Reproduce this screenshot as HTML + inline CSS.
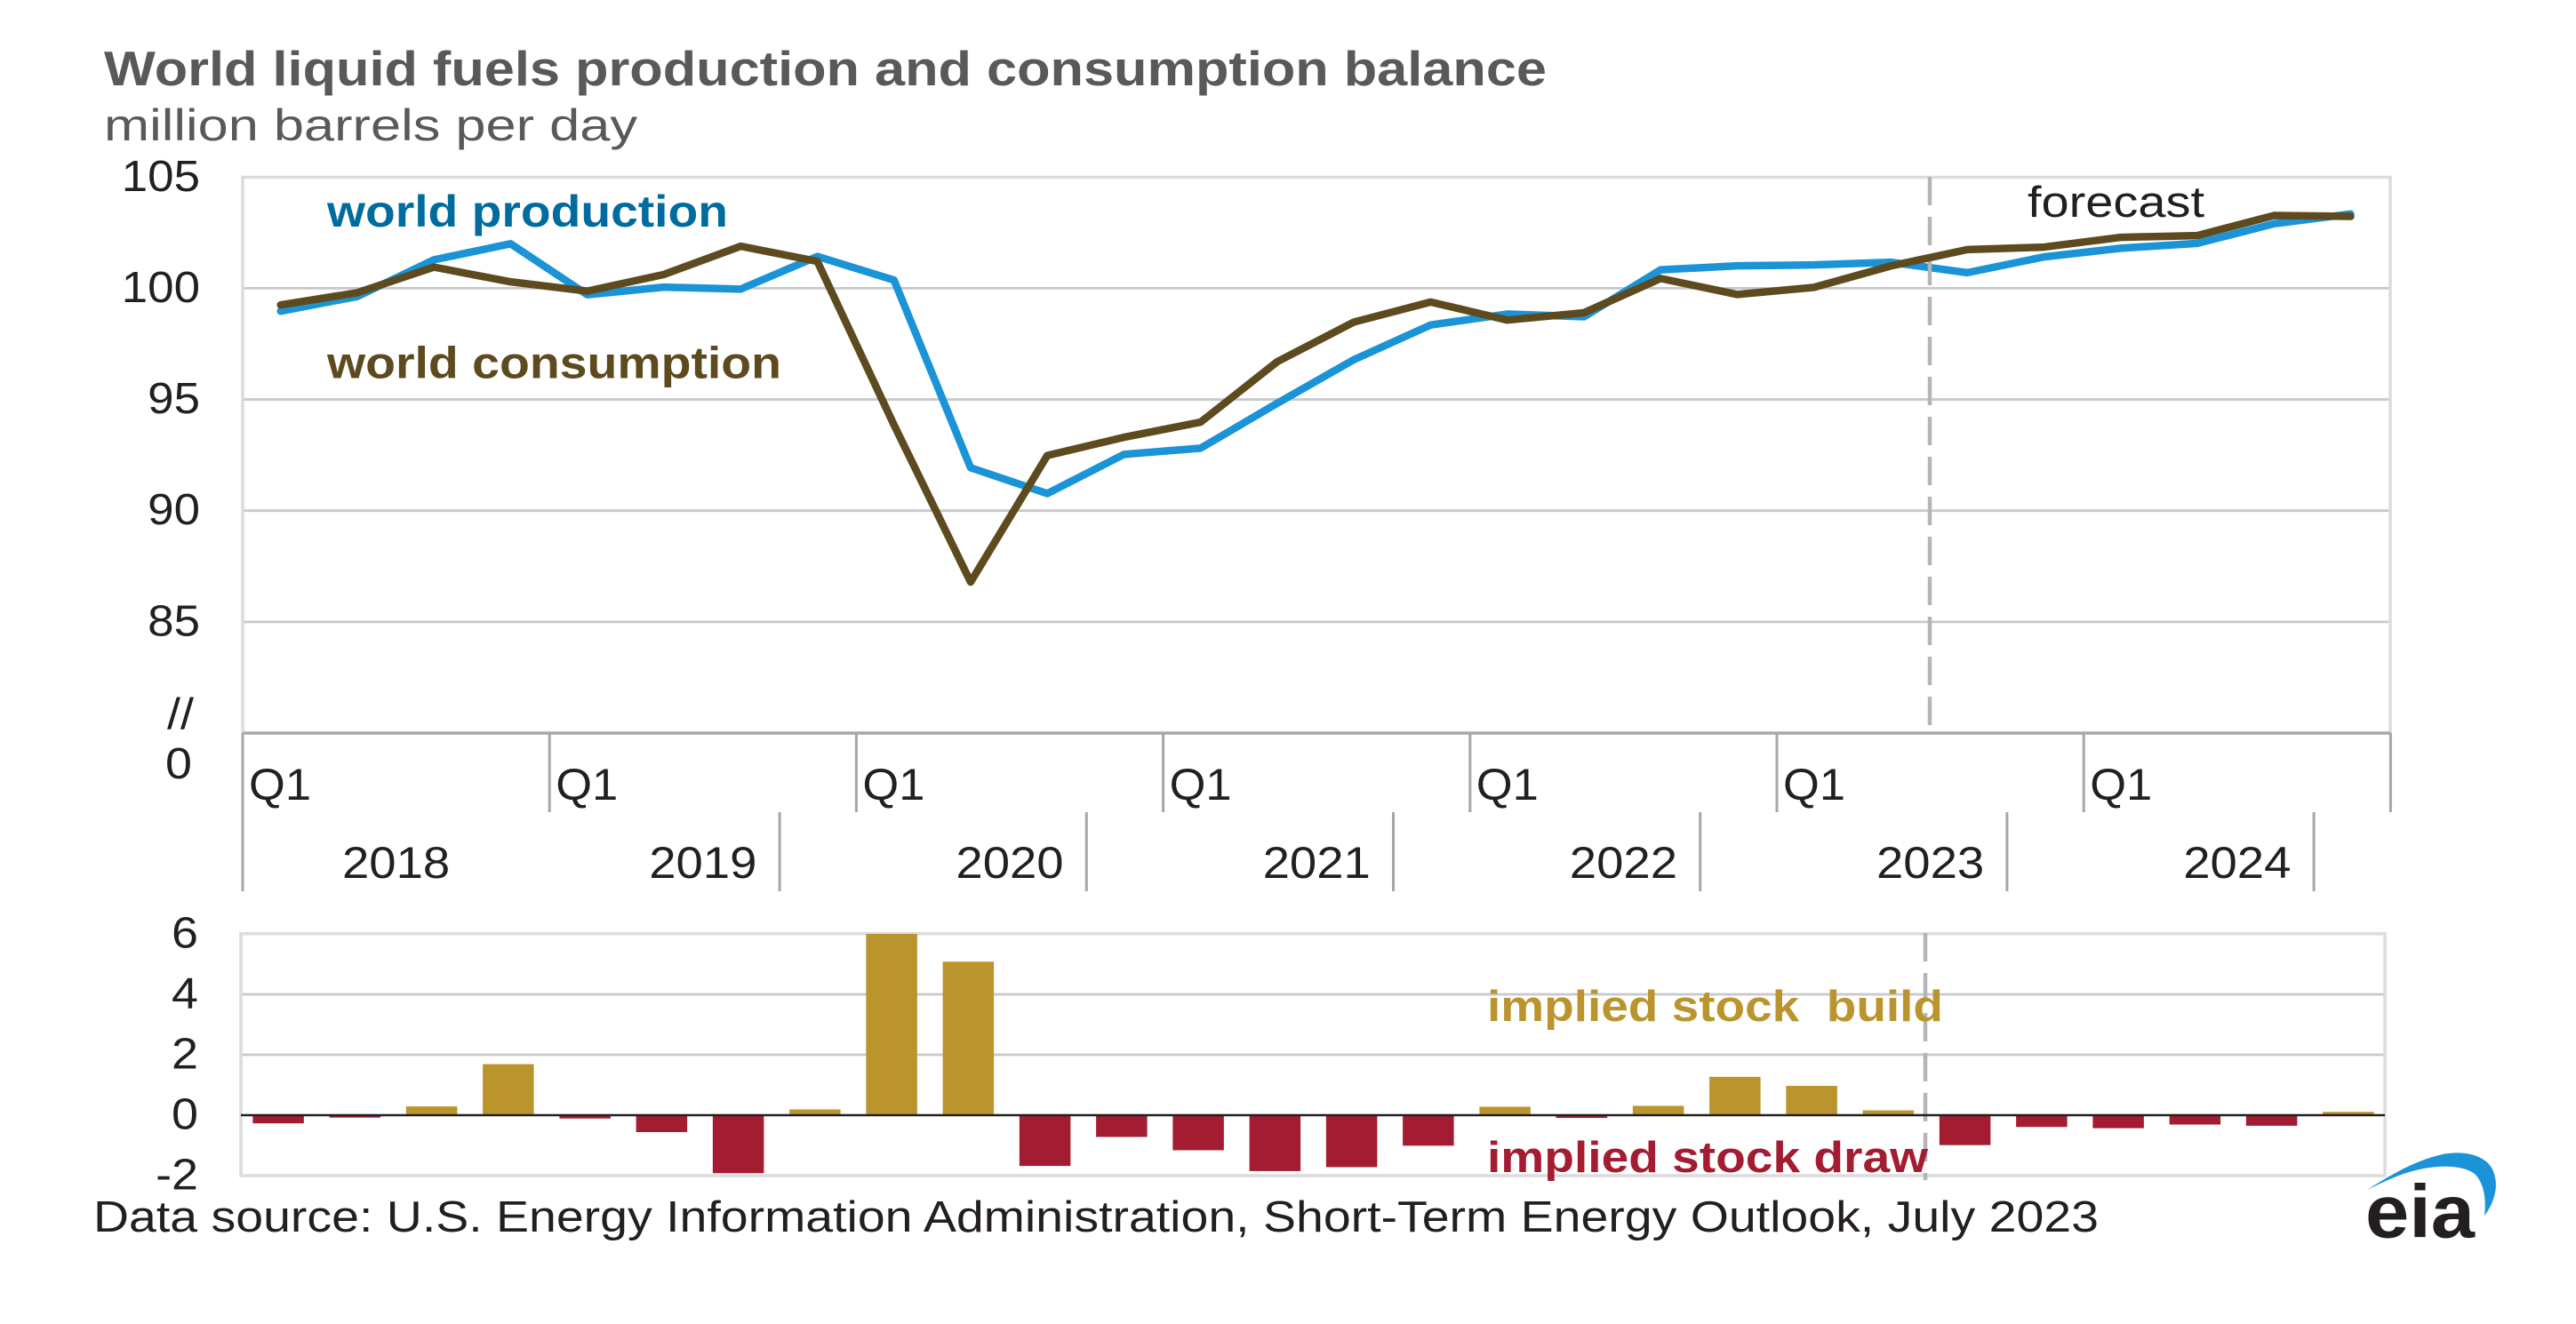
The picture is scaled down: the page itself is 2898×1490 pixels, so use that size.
<!DOCTYPE html>
<html lang="en">
<head>
<meta charset="utf-8">
<title>World liquid fuels production and consumption balance</title>
<style>
html,body{margin:0;padding:0;background:#fff;}
svg{display:block;font-family:"Liberation Sans",sans-serif;}
text{white-space:pre;}
</style>
</head>
<body>
<svg id="chart" xmlns="http://www.w3.org/2000/svg" width="2898" height="1490" viewBox="0 0 2898 1490">
  <rect x="0" y="0" width="2898" height="1490" fill="#ffffff"/>
  <text x="117" y="96" font-size="55" font-weight="700" fill="#58595b" textLength="1623" lengthAdjust="spacingAndGlyphs">World liquid fuels production and consumption balance</text>
  <text x="117" y="158" font-size="50" fill="#58595b" textLength="600" lengthAdjust="spacingAndGlyphs">million barrels per day</text>

  <g id="top-grid"></g>
  <rect x="273" y="199.5" width="2416" height="625.5" fill="none" stroke="#dcdcde" stroke-width="3.5"/>
  <g id="top-y-labels"></g>
  <text transform="translate(188,820) scale(1.1,1)" font-size="49" fill="#231f20">//</text>
  <text transform="translate(186,876) scale(1.1,1)" font-size="49" fill="#231f20">0</text>

  <g id="x-axis"></g>
  <g id="production-layer"></g>
  <line x1="2171" y1="199" x2="2171" y2="829" stroke="#b5b5b8" stroke-width="4.5" stroke-dasharray="32 13"/>
  <g id="consumption-layer"></g>

  <text x="368" y="255" font-size="50" font-weight="700" fill="#006c9e" textLength="451" lengthAdjust="spacingAndGlyphs">world production</text>
  <text x="368" y="425.5" font-size="50" font-weight="700" fill="#5e4a1f" textLength="511" lengthAdjust="spacingAndGlyphs">world consumption</text>
  <text x="2281" y="244" font-size="49" fill="#231f20" textLength="199" lengthAdjust="spacingAndGlyphs">forecast</text>

  <g id="bottom-grid"></g>
  <rect x="271" y="1050.8" width="2412" height="272.2" fill="none" stroke="#dcdcde" stroke-width="3.5"/>
  <g id="bottom-y-labels"></g>
  <line x1="2166" y1="1050" x2="2166" y2="1328" stroke="#b5b5b8" stroke-width="4.5" stroke-dasharray="32 13"/>
  <g id="bars"></g>
  <line x1="271" y1="1255" x2="2683" y2="1255" stroke="#231f20" stroke-width="2.5"/>

  <text x="1673" y="1149" font-size="49" font-weight="700" fill="#ba952e" textLength="513" lengthAdjust="spacingAndGlyphs">implied stock  build</text>
  <text x="1673" y="1319" font-size="49" font-weight="700" fill="#a31c31" textLength="496" lengthAdjust="spacingAndGlyphs">implied stock draw</text>

  <text x="105" y="1386" font-size="49" fill="#231f20" textLength="2256" lengthAdjust="spacingAndGlyphs">Data source: U.S. Energy Information Administration, Short-Term Energy Outlook, July 2023</text>

  <g>
    <path d="M2662.7 1339.3 C2690 1322 2715 1307 2746.7 1299.3 C2772 1294 2796 1300 2804 1316 C2812 1333 2807 1352 2795 1368.3 C2797 1350 2795 1332 2784 1321 C2772 1312 2750 1311 2726.7 1315 C2705 1319 2685 1328 2662.7 1339.3 Z" fill="#1a94d6"/>
    <text x="2661" y="1392.5" font-size="84" font-weight="700" fill="#231f20" textLength="123" lengthAdjust="spacingAndGlyphs">eia</text>
  </g>
</svg>

<script>
const quarterLabels = ["Q1","Q1","Q1","Q1","Q1","Q1","Q1"];
const yearLabels = ["2018","2019","2020","2021","2022","2023","2024"];
const topTicks = [100,95,90,85];
const topTickLabels = ["105","100","95","90","85"];
const topTickValues = [105,100,95,90,85];
const bottomTicks = [4,2];
const bottomTickValues = [6,4,2,0,-2];
const bottomTickLabels = ["6","4","2","0","-2"];

const productionValues = [98.97,99.63,101.28,102.0,99.71,100.05,99.96,101.43,100.37,91.93,90.77,92.53,92.81,94.83,96.79,98.35,98.84,98.72,100.83,101.01,101.05,101.17,100.70,101.41,101.80,102.02,102.90,103.34];
const consumptionValues = [99.25,99.80,100.95,100.29,99.87,100.62,101.89,101.21,93.86,86.79,92.48,93.30,93.98,96.70,98.48,99.38,98.57,98.90,100.44,99.72,100.04,101.00,101.74,101.85,102.29,102.37,103.27,103.23];
const stockChangeValues = [-0.27,-0.08,0.29,1.69,-0.11,-0.56,-1.92,0.19,6.0,5.08,-1.68,-0.72,-1.16,-1.85,-1.72,-1.01,0.28,-0.09,0.31,1.27,0.97,0.16,-0.99,-0.39,-0.43,-0.31,-0.35,0.11];

const NS = "http://www.w3.org/2000/svg";
function xTop(i){ return 315.7 + 86.25 * i; }
function yTop(v){ return 324.4 - (v - 100) * 25.03; }
function xBar(i){ return 313.1 + 86.25 * i; }
function yBar(v){ return 1255 - 34 * v; }
function xEdge(q){ return 273 + 86.3 * q; }
function node(tag, parentId){
  const el = document.createElementNS(NS, tag);
  document.getElementById(parentId).appendChild(el);
  return el;
}
function set(el, attrs){
  for (const k in attrs) el.setAttribute(k, attrs[k]);
}

topTicks.forEach(function(v){
  const el = node("line", "top-grid");
  
  
  set(el, {x1:273, x2:2689, y1:yTop(v), y2:yTop(v), stroke:"#c9c9cb", "stroke-width":2.8});
});
topTickValues.forEach(function(v, i){
  const el = node("text", "top-y-labels");
  
  
  set(el, {transform:"translate(225," + (yTop(v) + 15.5) + ") scale(1.08,1)", "text-anchor":"end", "font-size":49, fill:"#231f20"});
  el.textContent = topTickLabels[i];
});
bottomTicks.forEach(function(v){
  const el = node("line", "bottom-grid");
  
  
  set(el, {x1:271, x2:2683, y1:yBar(v), y2:yBar(v), stroke:"#c9c9cb", "stroke-width":2.8});
});
bottomTickValues.forEach(function(v, i){
  const el = node("text", "bottom-y-labels");
  
  
  set(el, {transform:"translate(223," + (yBar(v) + 15.5) + ") scale(1.1,1)", "text-anchor":"end", "font-size":49, fill:"#231f20"});
  el.textContent = bottomTickLabels[i];
});

/* time axis */
(function(){
  const axis = node("line", "x-axis");
  
  
  set(axis, {x1:xEdge(0), x2:xEdge(28), y1:825, y2:825, stroke:"#a6a6ab", "stroke-width":3.2});
  for (let k = 0; k <= quarterLabels.length; k++) {
    const t = node("line", "x-axis");
    
    
    set(t, {x1:xEdge(k*4), x2:xEdge(k*4), y1:825, y2:914, stroke:"#a6a6ab", "stroke-width":3});
  }
  quarterLabels.forEach(function(q, k){
    const el = node("text", "x-axis");
    
    
    set(el, {transform:"translate(" + (xEdge(k*4) + 7) + ",900) scale(1.05,1)", "font-size":50, fill:"#231f20"});
    el.textContent = q;
  });
  const low = [0,7,11,15,19,23,27];
  low.forEach(function(q){
    const t = node("line", "x-axis");
    
    
    set(t, {x1:xEdge(q), x2:xEdge(q), y1:914, y2:1003, stroke:"#a6a6ab", "stroke-width":3});
  });
  yearLabels.forEach(function(y, k){
    const el = node("text", "x-axis");
    
    
    set(el, {transform:"translate(" + xEdge(2 + 4*k) + ",988) scale(1.09,1)", "text-anchor":"middle", "font-size":50, fill:"#231f20"});
    el.textContent = y;
  });
})();

/* lines */
const prod = node("polyline", "production-layer");


set(prod, {points:productionValues.map(function(v,i){return xTop(i)+","+yTop(v);}).join(" "), fill:"none", stroke:"#1a94d6", "stroke-width":8.5, "stroke-linejoin":"round", "stroke-linecap":"round"});
const cons = node("polyline", "consumption-layer");


set(cons, {points:consumptionValues.map(function(v,i){return xTop(i)+","+yTop(v);}).join(" "), fill:"none", stroke:"#5e4a1f", "stroke-width":8.5, "stroke-linejoin":"round", "stroke-linecap":"round"});

/* bars */
stockChangeValues.forEach(function(v, i){
  const b = node("rect", "bars");
  
  
  const top = Math.min(yBar(v), yBar(0));
  const h = Math.abs(yBar(v) - yBar(0));
  set(b, {x:xBar(i) - 28.75, y:top, width:57.5, height:h, fill: v >= 0 ? "#ba952e" : "#a31c31"});
});
</script>
</body>
</html>
